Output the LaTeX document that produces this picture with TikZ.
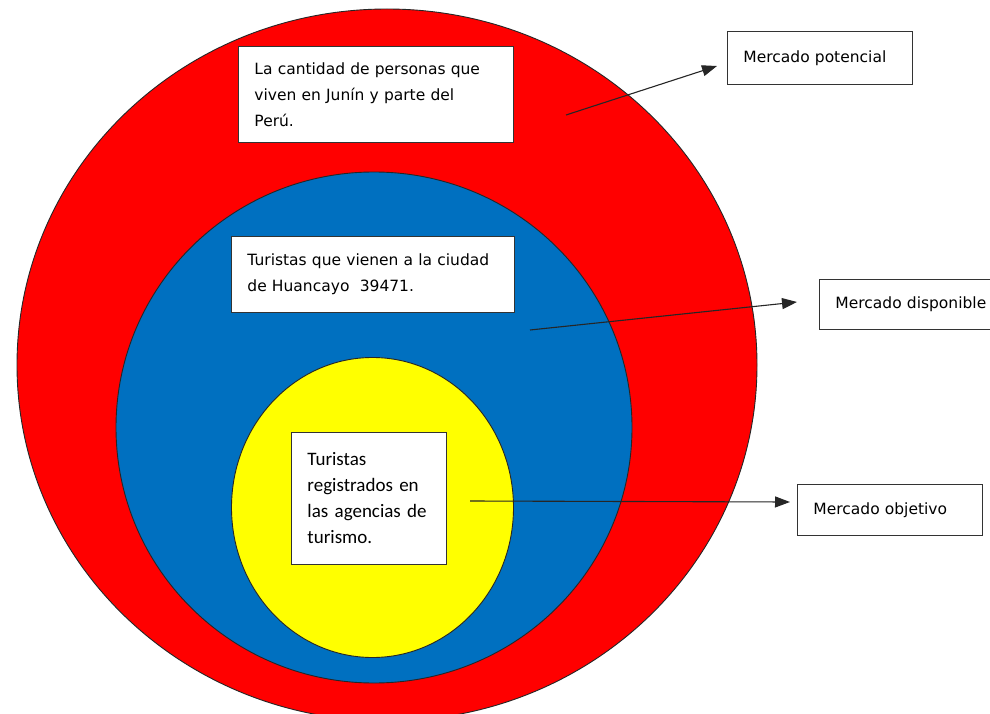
\documentclass[tikz,border=0pt]{standalone}
\usepackage{fontspec}
\setmainfont{DejaVu Sans}
\newfontfamily\calfont{Carlito}
\usetikzlibrary{arrows.meta}

\definecolor{ringred}{HTML}{FF0000}
\definecolor{ringblue}{HTML}{0070C0}
\definecolor{ringyellow}{HTML}{FFFF00}

\begin{document}
\begin{tikzpicture}[
    x=1pt, y=-1pt,
    ring/.style={draw=black!85, line width=0.9pt},
    txtbox/.style={rectangle, draw=black!80, fill=white, line width=0.9pt,
                   anchor=north west, inner xsep=16pt, inner ysep=0pt,
                   align=left, font=\fontsize{15.5}{26}\selectfont},
    arrow/.style={-{Triangle[length=15pt,width=11pt]}, line width=1.1pt, draw=black!85}
]

% Frame
\clip (0,0) rectangle (990,714);
\fill[white] (0,0) rectangle (990,714);

% Rings
\draw[ring, fill=ringred] (387,365) ellipse [x radius=370, y radius=356];
\draw[ring, fill=ringblue] (374,427.5) ellipse [x radius=258, y radius=255.5];
\draw[ring, fill=ringyellow] (372.5,507.5) ellipse [x radius=141, y radius=150];

% Nodes
\node[txtbox, text width=243pt, minimum height=96pt] (Junin) at (238,46)
    {La cantidad de personas que\\viven en Junín y parte del\\Perú.};
\node[txtbox, text width=251pt, minimum height=76pt] (Huancayo) at (231,236)
    {Turistas que vienen a la ciudad\\de Huancayo~~39471.};
\node[txtbox, text width=123pt, minimum height=132pt, font=\calfont\fontsize{19}{26}\selectfont] (Agencias) at (291,432)
    {Turistas\\registrados en\\las agencias de\\turismo.};
\node[txtbox, text width=153pt, minimum height=53pt] (Potencial) at (727,31) {Mercado potencial};
\node[txtbox, text width=168pt, minimum height=50pt] (Disponible) at (819,279) {Mercado disponible};
\node[txtbox, text width=153pt, minimum height=51pt] (Objetivo) at (797,484) {Mercado objetivo};

% Arrows
\coordinate (fromRed) at (566,115);
\coordinate (toPot) at (717,66);
\coordinate (fromBlue) at (530,330);
\coordinate (toDisp) at (797,302);
\coordinate (fromYellow) at (470,501);
\coordinate (toObj) at (790,502);

\draw[arrow] (fromRed) -- (toPot);
\draw[arrow] (fromBlue) -- (toDisp);
\draw[arrow] (fromYellow) -- (toObj);

\end{tikzpicture}
\end{document}
